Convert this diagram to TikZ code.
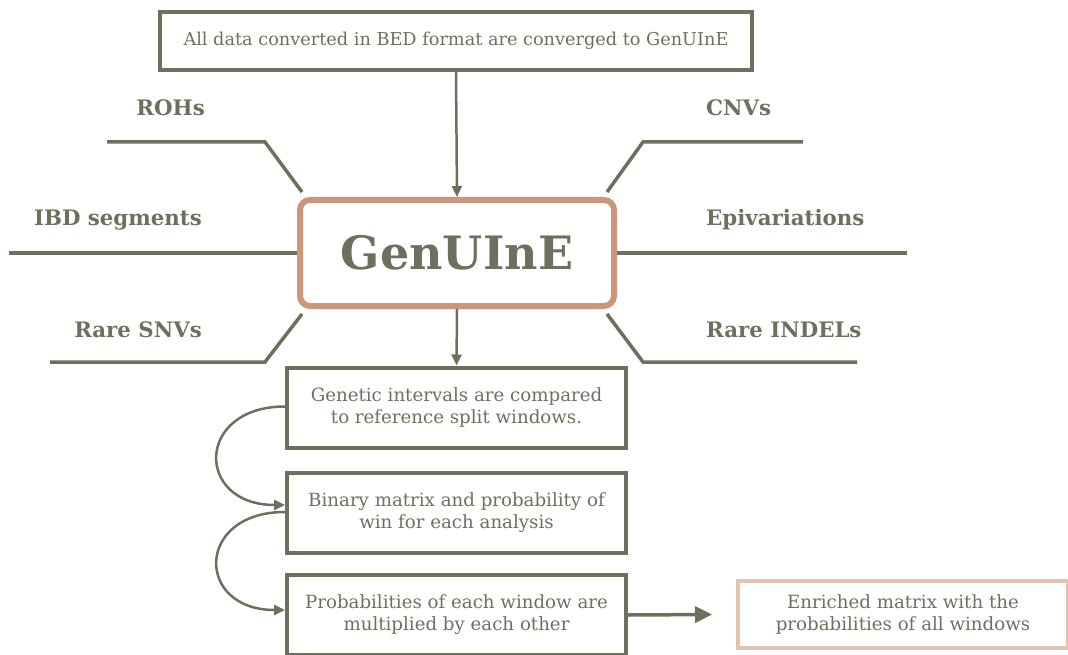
\documentclass[tikz,border=0pt]{standalone}
\usepackage{fontspec}
\setmainfont{DejaVu Serif}
\usetikzlibrary{arrows.meta}
\definecolor{olive}{HTML}{6E705D}
\definecolor{salmon}{HTML}{CC967B}
\definecolor{peach}{HTML}{E3C5AF}
\begin{document}
\begin{tikzpicture}[x=1pt,y=-1pt,
  box/.style={draw=olive, line width=4pt, text=olive, align=center, font=\fontsize{18.2}{22}\selectfont, inner sep=0pt, minimum width=339pt, minimum height=80pt},
  lbl/.style={text=olive, font=\bfseries\fontsize{21.3}{25}\selectfont, inner sep=0pt},
  conn/.style={draw=olive, line width=3.5pt},
  arr/.style={draw=olive, line width=2.5pt, -{Triangle[length=11pt,width=10pt]}},
  bigarr/.style={draw=olive, line width=3.5pt, -{Triangle[length=17pt,width=16pt]}}
]
\useasboundingbox (0,0) rectangle (1068,655);

\node[box, minimum width=592pt, minimum height=58pt, font=\fontsize{17.7}{21}\selectfont] (top) at (456,41) {All data converted in BED format are converged to GenUInE};
\node[draw=salmon, line width=6pt, rounded corners=10pt, minimum width=314pt, minimum height=106pt, text=olive, font=\bfseries\fontsize{46}{50}\selectfont] (g) at (457,253) {GenUInE};

\node[box] (b1) at (456.5,407.5) {Genetic intervals are compared\\to reference split windows.};
\node[box] (b2) at (456.5,513) {Binary matrix and probability of\\win for each analysis};
\node[box] (b3) at (456.5,615) {Probabilities of each window are\\multiplied by each other};
\node[box, draw=peach, minimum width=330pt, minimum height=67pt] (b4) at (903,614.5) {Enriched matrix with the\\probabilities of all windows};

% labels
\node[lbl, anchor=east] (roh) at (205,108) {ROHs};
\node[lbl, anchor=east] (ibd) at (202,220) {IBD segments};
\node[lbl, anchor=east] (snv) at (202,330) {Rare SNVs};
\node[lbl, anchor=west] (cnv) at (706,108) {CNVs};
\node[lbl, anchor=west] (epi) at (706,220) {Epivariations};
\node[lbl, anchor=west] (indel) at (706,330) {Rare INDELs};

% branch coordinates
\coordinate (rohA) at (107,142);
\coordinate (rohB) at (265,142);
\coordinate (ibdA) at (9,253);
\coordinate (snvA) at (50,362);
\coordinate (snvB) at (265,362);
\coordinate (cnvA) at (803,142);
\coordinate (cnvB) at (643,142);
\coordinate (epiA) at (907,253);
\coordinate (indA) at (857,362);
\coordinate (indB) at (643,362);

\draw[conn] (rohA) -- (rohB) -- ([shift={(5pt,5pt)}]g.north west);
\draw[conn] (ibdA) -- (g.west);
\draw[conn] (snvA) -- (snvB) -- ([shift={(5pt,-5pt)}]g.south west);
\draw[conn] (cnvA) -- (cnvB) -- ([shift={(-10pt,5pt)}]g.north east);
\draw[conn] (epiA) -- (g.east);
\draw[conn] (indA) -- (indB) -- ([shift={(-10pt,-5pt)}]g.south east);

% arrows
\draw[arr] (top.south) -- (g.north);
\draw[arr] (g.south) -- (b1.north);
\draw[arr] ([yshift=1pt]b1.west) .. controls +(-90,0) and +(-90,0) .. ([yshift=8pt]b2.west);
\draw[arr] ([yshift=1pt]b2.west) .. controls +(-90,0) and +(-90,0) .. ([yshift=5pt]b3.west);
\draw[bigarr] (b3.east) -- ([xshift=-24pt]b4.west);
\end{tikzpicture}
\end{document}
